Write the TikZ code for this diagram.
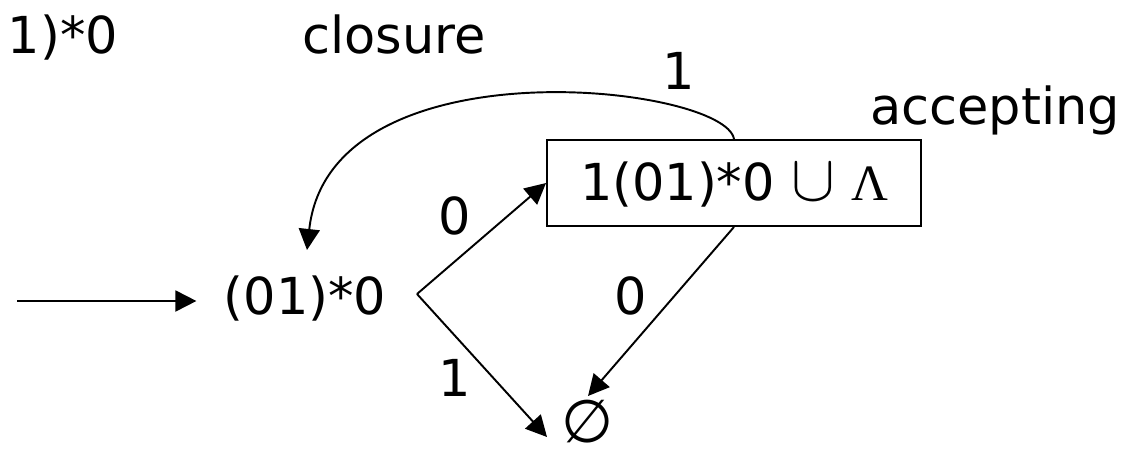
\documentclass[tikz,border=0pt]{standalone}
\usepackage{graphicx}
\usepackage{fontspec}
\setmainfont{DejaVu Sans}
\newfontfamily\lamfont{Liberation Serif}
\usetikzlibrary{arrows.meta,calc}
\begin{document}
\begin{tikzpicture}[x=0.02cm,y=-0.02cm,
  every node/.style={font=\fontsize{29}{34}\selectfont},
  lbl/.style={inner sep=0pt, anchor=base},
  edge/.style={line width=1.1pt},
  arr/.style={edge,-{Triangle[length=0.42cm,width=0.42cm]}},
  statebox/.style={draw, line width=1.1pt, inner sep=0pt, minimum width=374*0.02cm,
    minimum height=86*0.02cm, text height=0.72cm, text depth=0pt}]
\useasboundingbox (0,0) rectangle (1138,452);
% texts
\node[lbl] (t1) at (63,54) {1)*0};
\node[lbl] (tclos) at (394,54) {closure};
\node[lbl] (tacc) at (995,125) {accepting};
% states
\node[lbl] (s) at (305,315) {(01)*0};
\node[statebox] (acc) at (734,183) {1(01)*0 \scalebox{1.5}{$\cup$} {\lamfont Λ}};
\node[inner sep=0pt, font=\fontsize{34}{38}\selectfont] (empty) at (588,422) {∅};
% coordinates
\coordinate (in) at (17,301);
\coordinate (v) at (417,294);
\coordinate (e0) at (588,396);
\coordinate (e1) at (547,437);
% edges
\draw[arr] (in) -- ($(s.west|-in)+(-27,0)$);
\draw[arr] (v) -- (acc.west);
\draw[arr] (v) -- (e1);
\draw[arr] (acc.south) -- (e0);
\draw[arr] (acc.north) .. controls (725,85) and (330,40) .. ($(s.north)+(2,-26)$);
% edge labels
\node[lbl] (l0a) at (455,235) {0};
\node[lbl] (l1a) at (455,396) {1};
\node[lbl] (l0b) at (631,315) {0};
\node[lbl] (l1b) at (679,90) {1};
\end{tikzpicture}
\end{document}
